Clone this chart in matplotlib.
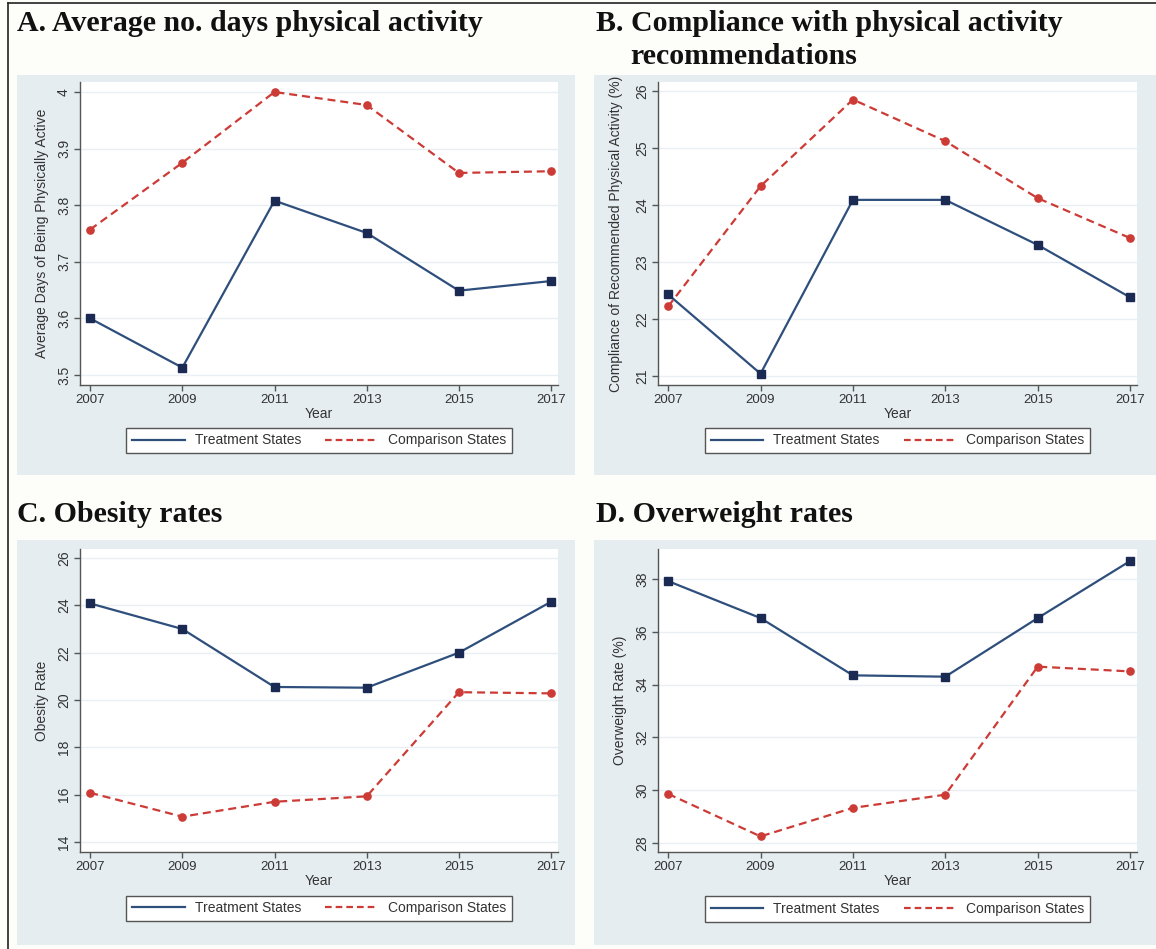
import matplotlib
matplotlib.use("Agg")
import matplotlib.pyplot as plt
from matplotlib.patches import Rectangle
from matplotlib.lines import Line2D

W, H = 1156, 949
DPI = 100

years = [2007, 2009, 2011, 2013, 2015, 2017]

# Panel A
a_treat = [3.600, 3.513, 3.808, 3.751, 3.649, 3.666]
a_comp = [3.757, 3.875, 4.000, 3.977, 3.857, 3.860]
a_yticks = [3.5, 3.6, 3.7, 3.8, 3.9, 4.0]
a_yticklabels = ["3.5", "3.6", "3.7", "3.8", "3.9", "4"]

# Panel B
b_treat = [22.43, 21.04, 24.09, 24.09, 23.30, 22.38]
b_comp = [22.22, 24.33, 25.85, 25.12, 24.12, 23.42]
b_yticks = [21, 22, 23, 24, 25, 26]

# Panel C
c_treat = [24.08, 23.00, 20.55, 20.52, 22.00, 24.15]
c_comp = [16.08, 15.07, 15.70, 15.93, 20.33, 20.28]
c_yticks = [14, 16, 18, 20, 22, 24, 26]

# Panel D
d_treat = [37.92, 36.52, 34.35, 34.30, 36.52, 38.68]
d_comp = [29.86, 28.25, 29.33, 29.83, 34.68, 34.50]
d_yticks = [28, 30, 32, 34, 36, 38]

series_labels = ["Treatment States", "Comparison States"]

TREAT = "#2e4f7c"
TREAT_MK = "#1b2a52"
COMP = "#cc3b35"
REGION = "#e5edf0"
FIGBG = "#fdfdfa"
AXCOL = "#555555"
TXT = "#333333"
DASH = (0, (3.6, 2.2))
LEG_DASH = (0, (3.0, 1.8))

plt.rcParams["font.family"] = ["Liberation Sans", "DejaVu Sans"]

fig = plt.figure(figsize=(W / DPI, H / DPI), dpi=DPI, facecolor=FIGBG)


def fbox(x0, y0, x1, y1):
    return [x0 / W, 1 - y1 / H, (x1 - x0) / W, (y1 - y0) / H]


def region(x0, y0, x1, y1):
    fig.patches.append(Rectangle((x0 / W, 1 - y1 / H), (x1 - x0) / W, (y1 - y0) / H,
                                 transform=fig.transFigure, facecolor=REGION,
                                 edgecolor="none", zorder=-5))


def lims(v_lo, px_lo, v_hi, px_hi, top, bot):
    per = (px_lo - px_hi) / (v_hi - v_lo)
    return (v_lo - (bot - px_lo) / per, v_hi + (px_hi - top) / per)


def panel(box, treat, comp, yticks, yticklabels, ylim, ylabel, legend_y, labelpad):
    ax = fig.add_axes(fbox(*box))
    ax.set_zorder(2)
    ax.set_facecolor("white")
    for s in ["top", "right"]:
        ax.spines[s].set_visible(False)
    for s in ["left", "bottom"]:
        ax.spines[s].set_color(AXCOL)
        ax.spines[s].set_linewidth(1.0)
    ax.set_yticks(yticks)
    ax.set_yticklabels(yticklabels, rotation=90, va="center")
    ax.set_xticks(years)
    ax.set_xticklabels([str(y) for y in years])
    ax.tick_params(axis="both", colors=AXCOL, labelcolor=TXT,
                   length=4.5, width=1.0, pad=2)
    ax.tick_params(axis="x", labelsize=9.5)
    ax.tick_params(axis="y", labelsize=10)
    ax.set_ylim(*ylim)
    ax.set_xlim(2006.78, 2017.15)
    ax.grid(axis="y", color="#e9eff2", linewidth=1.0)
    ax.set_axisbelow(True)
    ax.plot(years, treat, color=TREAT, lw=1.6, marker="s", ms=6,
            mfc=TREAT_MK, mec=TREAT_MK, label=series_labels[0], zorder=3, clip_on=False)
    ax.plot(years, comp, color=COMP, lw=1.6, ls=DASH, marker="o", ms=5.2,
            mfc=COMP, mec=COMP, label=series_labels[1], zorder=3, clip_on=False)
    ax.set_xlabel("Year", fontsize=10, color=TXT, labelpad=1)
    ax.set_ylabel(ylabel, fontsize=10, color=TXT, labelpad=labelpad)
    handles = [Line2D([], [], color=TREAT, lw=1.6),
               Line2D([], [], color=COMP, lw=1.6, ls=LEG_DASH)]
    leg = ax.legend(handles, series_labels, loc="center", bbox_to_anchor=(0.5, legend_y),
                    ncol=2, frameon=True, fancybox=False, edgecolor=AXCOL,
                    framealpha=1, fontsize=10, handlelength=3.8, columnspacing=1.75,
                    borderpad=0.42, handletextpad=0.7, borderaxespad=0)
    leg.get_frame().set_linewidth(1.0)
    for t in leg.get_texts():
        t.set_color(TXT)
    return ax


# graph regions
region(17, 75, 575, 475)
region(594, 75, 1156, 475)
region(17, 540, 575, 945)
region(594, 540, 1156, 945)

panel((80, 82, 558, 385), a_treat, a_comp, a_yticks, a_yticklabels,
      lims(3.5, 375, 4.0, 92, 82, 385), "Average Days of Being Physically Active", -0.183, 6)
panel((658, 82, 1137, 385), b_treat, b_comp, b_yticks, [str(v) for v in b_yticks],
      lims(21, 376, 26, 91, 82, 385), "Compliance of Recommended Physical Activity (%)", -0.183, 8.5)
panel((80, 549, 558, 852), c_treat, c_comp, c_yticks, [str(v) for v in c_yticks],
      lims(14, 842, 26, 558, 549, 852), "Obesity Rate", -0.186, 6)
panel((658, 549, 1137, 852), d_treat, d_comp, d_yticks, [str(v) for v in d_yticks],
      lims(28, 843, 38, 579, 549, 852), "Overweight Rate (%)", -0.188, 6)

# titles
tfont = dict(family=["Liberation Serif", "DejaVu Serif"], fontweight="bold", fontsize=21.5,
             color="#111111", va="baseline", ha="left")
fig.text(17 / W, 1 - 31 / H, "A. Average no. days physical activity", **tfont)
fig.text(596 / W, 1 - 31 / H, "B. Compliance with physical activity", **tfont)
fig.text(630 / W, 1 - 64 / H, "recommendations", **tfont)
fig.text(17 / W, 1 - 522 / H, "C. Obesity rates", **tfont)
fig.text(596 / W, 1 - 522 / H, "D. Overweight rates", **tfont)

# outer frame lines (top and left)
fig.add_artist(Line2D([8 / W, 1], [1 - 3 / H, 1 - 3 / H], color="#222222", lw=1.2,
                      transform=fig.transFigure))
fig.add_artist(Line2D([8 / W, 8 / W], [0, 1 - 3 / H], color="#222222", lw=1.2,
                      transform=fig.transFigure))

fig.savefig("out.png", dpi=DPI, facecolor=FIGBG)
